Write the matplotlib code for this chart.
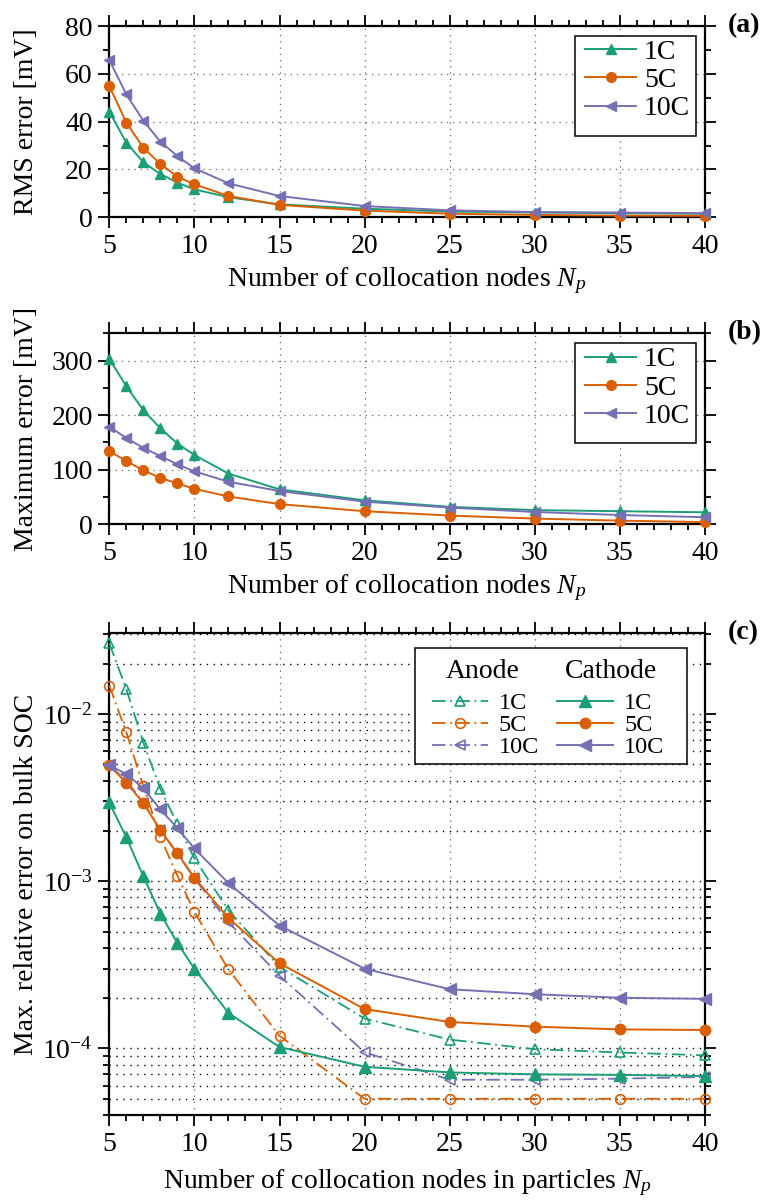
import matplotlib
matplotlib.use("Agg")
import matplotlib.pyplot as plt
from matplotlib.ticker import MultipleLocator, LogLocator, NullFormatter
from matplotlib.patches import Rectangle

# ---------------- data ----------------
nodes = [5, 6, 7, 8, 9, 10, 12, 15, 20, 25, 30, 35, 40]
rates = ["1C", "5C", "10C"]

rms_1C = [44.2, 31.2, 23.0, 18.1, 14.5, 11.7, 8.4, 5.4, 3.6, 2.4, 2.0, 1.7, 1.5]
rms_5C = [54.9, 39.6, 29.1, 22.3, 17.0, 13.8, 8.9, 5.2, 2.8, 1.5, 1.0, 0.7, 0.6]
rms_10C = [65.8, 51.4, 40.4, 31.6, 25.6, 20.5, 14.2, 8.9, 4.7, 2.9, 2.2, 2.0, 1.7]

max_1C = [303, 253, 209, 176, 148, 127, 93, 64, 44, 32, 26, 24, 22]
max_5C = [134, 116, 99, 85, 75, 65, 51, 37, 24, 16, 10.5, 6.7, 4]
max_10C = [179, 158, 140, 125, 110, 97, 78, 61, 41.5, 30.5, 22.6, 17, 13]

anode_1C = [2.65e-2, 1.41e-2, 6.74e-3, 3.57e-3, 2.2e-3, 1.37e-3, 6.7e-4, 3.07e-4,
            1.51e-4, 1.13e-4, 9.9e-5, 9.46e-5, 9.1e-5]
anode_5C = [1.48e-2, 7.77e-3, 3.7e-3, 1.83e-3, 1.08e-3, 6.55e-4, 2.97e-4, 1.19e-4,
            5.0e-5, 5.0e-5, 5.0e-5, 5.0e-5, 5.0e-5]
anode_10C = [4.93e-3, 4.0e-3, 2.95e-3, 2.02e-3, 1.46e-3, 1.04e-3, 5.7e-4, 2.72e-4,
             9.5e-5, 6.5e-5, 6.5e-5, 6.6e-5, 6.75e-5]
cathode_1C = [2.96e-3, 1.83e-3, 1.07e-3, 6.4e-4, 4.27e-4, 3.0e-4, 1.63e-4, 1.02e-4,
              7.77e-5, 7.19e-5, 7.0e-5, 6.95e-5, 6.84e-5]
cathode_5C = [4.93e-3, 3.88e-3, 2.94e-3, 2.02e-3, 1.47e-3, 1.05e-3, 6.03e-4, 3.23e-4,
              1.72e-4, 1.44e-4, 1.35e-4, 1.30e-4, 1.29e-4]
cathode_10C = [4.93e-3, 4.38e-3, 3.59e-3, 2.69e-3, 2.08e-3, 1.57e-3, 9.75e-4, 5.43e-4,
               3.0e-4, 2.26e-4, 2.11e-4, 2.01e-4, 1.98e-4]

# ---------------- style ----------------
plt.rcParams.update({
    "font.family": ["Liberation Serif", "DejaVu Serif"],
    "mathtext.fontset": "custom",
    "mathtext.rm": "Liberation Serif",
    "mathtext.it": "Liberation Serif:italic",
    "mathtext.bf": "Liberation Serif:bold",
    "font.size": 20,
    "axes.axisbelow": True,
})

colors = {"1C": "#1b9e77", "5C": "#d95f02", "10C": "#7570b3"}
markers = {"1C": "^", "5C": "o", "10C": "<"}

W, H = 766, 1201
fig = plt.figure(figsize=(W / 100, H / 100), dpi=100)

L, R = 109.3, 705.0
boxes = {"a": (26.0, 217.3), "b": (333.3, 524.3), "c": (633.3, 1115.0)}


def add_ax(key):
    t, b = boxes[key]
    return fig.add_axes([L / W, 1 - b / H, (R - L) / W, (b - t) / H])


def to_ax(key, px, py):
    t, b = boxes[key]
    return (px - L) / (R - L), (b - py) / (b - t)


def common(ax):
    for s in ax.spines.values():
        s.set_linewidth(1.6)
    ax.tick_params(which="both", direction="out", top=True, right=True, width=1.3)
    ax.tick_params(which="major", length=8, pad=4)
    ax.tick_params(which="minor", length=4)
    ax.set_xlim(5, 40)
    ax.xaxis.set_major_locator(MultipleLocator(5))
    ax.xaxis.set_minor_locator(MultipleLocator(1))


def frame(ax, key, l, r, t, b):
    x0, y0 = to_ax(key, l, b)
    x1, y1 = to_ax(key, r, t)
    ax.add_patch(Rectangle((x0, y0), x1 - x0, y1 - y0, transform=ax.transAxes,
                           facecolor="white", edgecolor="black", lw=1.1,
                           zorder=4.5, clip_on=False))


# ---------------- panel (a) ----------------
axA = add_ax("a")
common(axA)
axA.set_ylim(0, 80)
axA.yaxis.set_major_locator(MultipleLocator(20))
axA.yaxis.set_minor_locator(MultipleLocator(10))
axA.grid(True, which="major", color="#666666", linestyle=(0, (1, 4)), lw=0.9)
for rate, vals in zip(rates, [rms_1C, rms_5C, rms_10C]):
    axA.plot(nodes, vals, color=colors[rate], marker=markers[rate], ms=7.5 if rate != "5C" else 7,
             lw=1.4, label=rate, clip_on=False, zorder=3)
axA.set_ylabel("RMS error [mV]")
axA.yaxis.set_label_coords(-0.118, 0.5)
axA.set_xlabel("Number of collocation nodes $N_p$")
axA.xaxis.set_label_coords(0.5, -0.25)
frame(axA, "a", 575, 696, 35.7, 135.7)
x0, y0 = to_ax("a", 585, 39.5)
axA.legend(loc="upper left", bbox_to_anchor=(x0, y0), frameon=False, borderpad=0,
           borderaxespad=0, handlelength=1.85, handletextpad=0.27, labelspacing=0.1)
fig.text(728 / W, 1 - 26 / H, "(a)", weight="bold", fontsize=20, ha="left", va="center")

# ---------------- panel (b) ----------------
axB = add_ax("b")
common(axB)
axB.set_ylim(0, 350)
axB.yaxis.set_major_locator(MultipleLocator(100))
axB.yaxis.set_minor_locator(MultipleLocator(50))
axB.grid(True, which="major", color="#666666", linestyle=(0, (1, 4)), lw=0.9)
for rate, vals in zip(rates, [max_1C, max_5C, max_10C]):
    axB.plot(nodes, vals, color=colors[rate], marker=markers[rate], ms=7.5 if rate != "5C" else 7,
             lw=1.4, label=rate, clip_on=False, zorder=3)
axB.set_ylabel("Maximum error [mV]")
axB.yaxis.set_label_coords(-0.118, 0.5)
axB.set_xlabel("Number of collocation nodes $N_p$")
axB.xaxis.set_label_coords(0.5, -0.25)
frame(axB, "b", 575, 696, 343, 443)
x0, y0 = to_ax("b", 585, 347)
axB.legend(loc="upper left", bbox_to_anchor=(x0, y0), frameon=False, borderpad=0,
           borderaxespad=0, handlelength=1.85, handletextpad=0.27, labelspacing=0.1)
fig.text(728 / W, 1 - 333 / H, "(b)", weight="bold", fontsize=20, ha="left", va="center")

# ---------------- panel (c) ----------------
axC = add_ax("c")
common(axC)
axC.set_yscale("log")
axC.set_ylim(4e-5, 3.04e-2)
axC.yaxis.set_major_locator(LogLocator(base=10))
axC.yaxis.set_minor_locator(LogLocator(base=10, subs=range(2, 10)))
axC.yaxis.set_minor_formatter(NullFormatter())
axC.yaxis.grid(True, which="both", color="black", linestyle=(0, (1, 4)), lw=1.0)
axC.xaxis.grid(True, which="major", color="#666666", linestyle=(0, (1, 4)), lw=0.9)

dashdot = (0, (7.5, 2.5, 1, 2.5))
anode_handles = []
cathode_handles = []
for rate, vals in zip(rates, [anode_1C, anode_5C, anode_10C]):
    h, = axC.plot(nodes, vals, color=colors[rate], marker=markers[rate], ms=7,
                  mfc="none", mew=1.2, lw=1.3, linestyle=dashdot, label=rate,
                  clip_on=False, zorder=3)
    anode_handles.append(h)
for rate, vals in zip(rates, [cathode_1C, cathode_5C, cathode_10C]):
    h, = axC.plot(nodes, vals, color=colors[rate], marker=markers[rate],
                  ms=8 if rate != "5C" else 7.5, lw=1.4, label=rate,
                  clip_on=False, zorder=3.2)
    cathode_handles.append(h)
axC.set_ylabel("Max. relative error on bulk SOC")
axC.yaxis.set_label_coords(-0.118, 0.5)
axC.set_xlabel("Number of collocation nodes in particles $N_p$")
axC.xaxis.set_label_coords(0.5, -0.108)

frame(axC, "c", 415, 687, 648, 764)
x0, y0 = to_ax("c", 432, 692)
axC.legend(anode_handles + cathode_handles, rates + rates, ncol=2, fontsize=17.5,
           loc="upper left", bbox_to_anchor=(x0, y0), frameon=False, borderpad=0,
           borderaxespad=0, handlelength=2.3, handletextpad=0.45,
           columnspacing=0.75, labelspacing=0.0)
hx, hy = to_ax("c", 483, 671)
axC.text(hx, hy, "Anode", transform=axC.transAxes, ha="center", va="center", zorder=10)
hx, hy = to_ax("c", 611, 671)
axC.text(hx, hy, "Cathode", transform=axC.transAxes, ha="center", va="center", zorder=10)
fig.text(728 / W, 1 - 633 / H, "(c)", weight="bold", fontsize=20, ha="left", va="center")

fig.savefig("out.png", dpi=100)
